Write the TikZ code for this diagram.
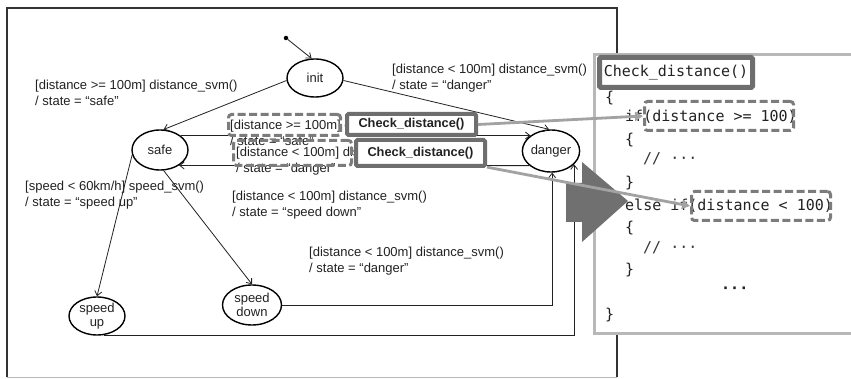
\documentclass[tikz,border=0pt]{standalone}
\usepackage{fontspec}
\setmainfont{Liberation Sans}
\setmonofont{DejaVu Sans Mono}
\usetikzlibrary{shapes.geometric,arrows.meta}

\definecolor{inkc}{HTML}{222222}
\definecolor{boxgray}{HTML}{6E6E6E}
\definecolor{dashgray}{HTML}{7C7C7C}
\definecolor{linkgray}{HTML}{A2A2A2}
\definecolor{codeframe}{HTML}{B8B8B8}
\definecolor{bigarrow}{HTML}{707070}
\definecolor{framec}{HTML}{333333}

\tikzset{
  stnode/.style={ellipse, draw=black, line width=1.4pt, inner sep=0pt,
    minimum width=56pt, minimum height=38pt, align=center, text=inkc,
    font=\fontsize{13}{14.5}\selectfont},
  trans/.style={draw=inkc, line width=0.8pt, -{Straight Barb[length=4.5pt,width=7pt]}},
  guard/.style={anchor=west, align=left, inner sep=1pt, text=inkc,
    font=\fontsize{13}{16}\selectfont},
  callbox/.style={draw=boxgray, line width=4pt, fill=white, rounded corners=1.5pt,
    minimum width=129pt, inner sep=0pt, text=inkc,
    font=\bfseries\fontsize{12.8}{14}\selectfont},
  condbox/.style={draw=dashgray, line width=3pt, dash pattern=on 8pt off 3.5pt,
    rounded corners=3pt, inner sep=0pt},
  codeline/.style={anchor=west, inner sep=0pt, text=inkc,
    font=\ttfamily\fontsize{15}{18}\selectfont},
  link/.style={draw=linkgray, line width=2.8pt, -{Triangle[length=8pt,width=9pt]}},
}

\begin{document}
\begin{tikzpicture}[x=1pt,y=-1pt]
\useasboundingbox (0,0) rectangle (851,379);
\fill[white] (0,0) rectangle (851,379);

% outer frame of the state chart
\draw[framec, line width=1.2pt] (7,377) -- (7,8) -- (617,8) -- (617,377);
\draw[codeframe, line width=1pt] (7,377) -- (617,377);

% transition guards
\node[guard] (g1) at (34,92.5) {[distance >= 100m] distance\_svm()\\/ state = “safe”};
\node[guard] (g2) at (391,78) {[distance < 100m] distance\_svm()\\/ state = “danger”};
\node[guard] (g3) at (24,195) {[speed < 60km/h] speed\_svm()\\/ state = “speed up”};
\node[guard] (g4) at (231,205) {[distance < 100m] distance\_svm()\\/ state = “speed down”};
\node[guard] (g5) at (308,261) {[distance < 100m] distance\_svm()\\/ state = “danger”};

% states
\node[stnode] (init) at (315,78) {init};
\node[stnode, minimum height=40pt] (safe) at (160,150) {safe};
\node[stnode, minimum height=42pt] (danger) at (551,151) {danger};
\node[stnode] (su) at (97,316) {speed\\up};
\node[stnode, minimum width=59pt, minimum height=40pt] (sd) at (252,305) {speed\\down};
\node[circle, fill=black, inner sep=0pt, minimum size=4.5pt] (start) at (286,38) {};

% transitions
\draw[trans] (start) -- (init.100);
\draw[trans] (init.185) -- (safe.80);
\draw[trans] (init.-5) -- (danger.95);
\draw[trans] (safe.35) -- (danger.143);
\draw[trans] (danger.214) -- (safe.-39);
\draw[trans] (safe.190) -- (su.north);
\draw[trans] (safe.-80) -- (sd.north);
\draw[trans] (sd.east) -| (danger.-87);
\draw[trans] (su.-70) -| (danger.-30);

% guards of the two safe/danger transitions
\node[guard, fill=white] (g6) at (229,133) {[distance >= 100m] distance\_svm()\\/ state = “safe”};
\node[guard, fill=white] (g7) at (235,161) {[distance < 100m] distance\_svm()\\/ state = “danger”};

% highlighted guard conditions and the calls that check them
\node[condbox, minimum width=112pt, minimum height=21pt] (c1) at (284.5,125) {};
\node[condbox, minimum width=118pt, minimum height=25pt] (c2) at (292.5,153) {};
\node[callbox, minimum height=21pt] (cd1) at (411.5,124.5) {Check\_distance()};
\node[callbox, minimum height=26pt] (cd2) at (420.5,153) {Check\_distance()};

% source listing of Check_distance()
\draw[codeframe, line width=3pt, fill=white] (594,55) rectangle (880,333);
\node[codeline] (l1) at (605,98) {\{};
\node[codeline] (l2) at (625,117) {if(distance >= 100)};
\node[codeline] (l3) at (625,140) {\{};
\node[codeline, text=framec] (l4) at (643,159) {// ···};
\node[codeline] (l5) at (625,183) {\}};
\node[codeline] (l6) at (625,206) {else if(distance < 100)};
\node[codeline] (l7) at (625,228) {\{};
\node[codeline, text=framec] (l8) at (643,248) {// ···};
\node[codeline] (l9) at (625,270) {\}};
\node[codeline] (l10) at (721,290) {\textbf{···}};
\node[codeline] (l11) at (605,315) {\}};
\node[draw=boxgray, line width=5pt, fill=white, rounded corners=1.5pt, inner sep=0pt,
  minimum width=153pt, minimum height=30pt, text=inkc,
  font=\ttfamily\fontsize{15}{18}\selectfont] (head) at (676,72.5) {Check\_distance()};
\node[condbox, minimum width=149pt, minimum height=29pt] (ca) at (719,116) {};
\node[condbox, minimum width=139pt, minimum height=29pt] (cb) at (761,206) {};

% block arrow from the chart to the listing
\fill[bigarrow] (566,183) -- (582,183) -- (582,162) -- (628,201) -- (582,242)
  -- (582,222) -- (566,222) -- cycle;

% links from each call to its condition
\draw[link] (cd1.east) -- (ca.west);
\draw[link] (cd2.-12) -- (cb.west);
\end{tikzpicture}
\end{document}
